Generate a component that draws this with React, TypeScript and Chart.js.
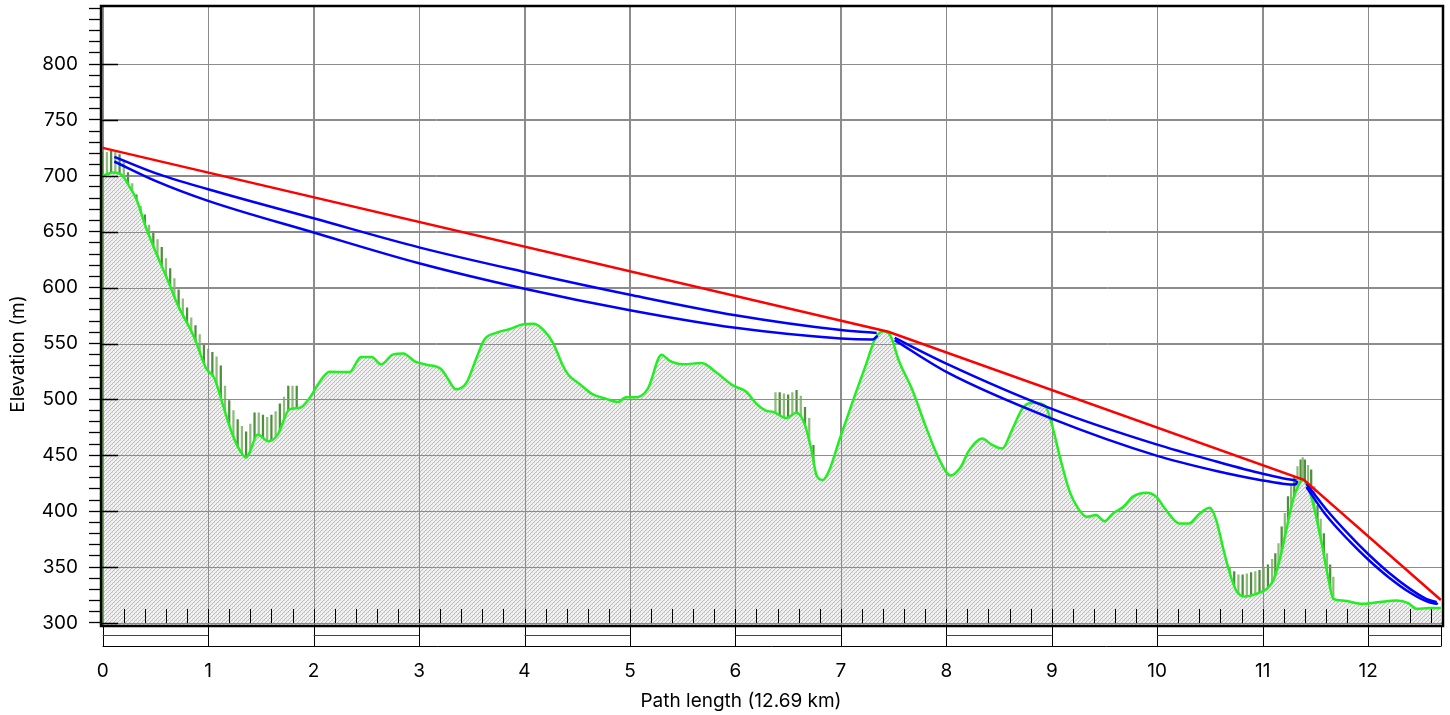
import React, { useEffect, useRef } from 'react';
import { Chart, registerables } from 'chart.js';
Chart.register(...registerables);

// ---------- data ----------
const PATH_KM = 12.69;

const terrainKm = [
  0.0, 0.1, 0.19, 0.24, 0.32, 0.41, 0.52, 0.62, 0.71, 0.87, 0.98, 1.06, 1.14, 1.22, 1.28, 1.36, 1.39, 1.47, 1.57, 1.66,
  1.77, 1.87, 1.96, 2.06, 2.15, 2.34, 2.45, 2.55, 2.64, 2.75, 2.85, 2.96, 3.07, 3.21, 3.27, 3.35, 3.45, 3.54, 3.62, 3.73,
  3.86, 3.98, 4.09, 4.19, 4.27, 4.36, 4.42, 4.52, 4.64, 4.77, 4.89, 4.96, 5.06, 5.17, 5.3, 5.37, 5.5, 5.68, 5.82, 5.98,
  6.1, 6.2, 6.29, 6.36, 6.48, 6.58, 6.66, 6.72, 6.77, 6.83, 6.89, 6.99, 7.11, 7.24, 7.33, 7.41, 7.47, 7.55, 7.68, 7.8,
  7.93, 8.04, 8.14, 8.21, 8.34, 8.43, 8.53, 8.62, 8.73, 8.84, 8.94, 9.0, 9.08, 9.17, 9.25, 9.33, 9.42, 9.5, 9.58, 9.68,
  9.77, 9.9, 9.99, 10.08, 10.21, 10.3, 10.4, 10.5, 10.56, 10.63, 10.69, 10.75, 10.83, 10.94, 11.04, 11.1, 11.16, 11.23, 11.29, 11.34,
  11.38, 11.43, 11.49, 11.56, 11.62, 11.67, 11.76, 11.95, 12.11, 12.27, 12.38, 12.46, 12.58, 12.69,
];
const terrainElev = [
  700, 703, 700, 692.5, 679, 654, 628, 606, 585, 555, 528, 519, 495, 471.5, 458, 448, 452, 468.5, 462.5, 468.5,
  491, 492.5, 501, 516, 524.7, 524.4, 538, 538, 531.3, 540, 541, 534, 531, 527, 519, 509, 515, 536, 553.6, 559.5,
  563, 567, 567.6, 561, 550.6, 531, 521.6, 514, 505, 500.7, 497.8, 502, 502, 509.7, 540, 535, 531.5, 532.5, 524, 512.3,
  507, 496, 490, 488.8, 483.3, 488, 477, 455, 432, 428, 436.6, 464.8, 497.5, 531.6, 555.3, 561, 557, 534.6, 508, 477,
  447, 432, 440, 453.5, 465, 459.5, 456, 472, 493, 497, 494, 478, 447.5, 417.5, 402.5, 395, 396.5, 391, 398, 404,
  413, 416.5, 413, 401.5, 389, 389, 397.8, 403, 391.8, 365, 344, 329, 323.7, 326, 330.6, 338, 356, 385.8, 411, 423,
  428.2, 421.6, 402.2, 371, 341, 321.6, 320, 317.2, 318.7, 320, 317.8, 312.7, 313.3, 313.3,
];

// clutter (vegetation / buildings) tops above the terrain
const clutterKm = [
  0.0, 0.04, 0.08, 0.12, 0.16, 0.2, 0.24, 0.28, 0.32, 0.36, 0.4, 0.44, 0.48, 0.52, 0.56, 0.6, 0.64, 0.68, 0.72, 0.76,
  0.8, 0.84, 0.88, 0.92, 0.96, 1.0, 1.04, 1.08, 1.12, 1.16, 1.2, 1.24, 1.28, 1.32, 1.36, 1.4, 1.44, 1.48, 1.52, 1.56,
  1.6, 1.64, 1.68, 1.72, 1.76, 1.8, 1.84,
  6.38, 6.42, 6.46, 6.5, 6.54, 6.58, 6.62, 6.66, 6.7, 6.74,
  10.69, 10.73, 10.77, 10.81, 10.85, 10.89, 10.93, 10.97, 11.01, 11.05, 11.09, 11.12, 11.15, 11.18, 11.21, 11.24, 11.27, 11.3,
  11.33, 11.36, 11.38, 11.4, 11.43, 11.46, 11.49, 11.52, 11.55, 11.58, 11.61, 11.64, 11.67,
];
const clutterTop = [
  721, 721, 722, 721, 719, 714, 703, 693, 683, 673, 665, 656, 650, 643, 636, 626, 617, 608, 598, 590,
  582, 573, 566, 558, 549, 545, 542, 538, 530, 512, 499, 490, 482, 476, 471, 478, 488, 488, 486, 484,
  486, 489, 496, 502, 512, 512, 512,
  506, 506, 505, 504, 506, 508, 503, 493, 483, 459,
  350, 346, 343, 343, 344, 345, 346, 347, 350, 352, 357, 362, 371, 386, 398, 413, 423, 431,
  440, 446, 448, 446, 441, 437, 422, 405, 393, 380, 362, 352, 341,
];

// line of sight (red)
const losKm = [0, 7.45, 11.39, 12.69];
const losElev = [725, 560.5, 428, 320.5];

// hop clearance curves (blue)
const hop1UpperKm = [0.11, 0.5, 1, 2, 3, 4, 5, 6, 7, 7.34];
const hop1UpperElev = [717, 702.4, 688, 662, 636, 614, 593.6, 575.2, 562, 559.5];
const hop1LowerKm = [0.11, 0.5, 1, 2, 3, 4, 5, 6, 7, 7.3, 7.35];
const hop1LowerElev = [712.8, 695.5, 677.6, 649.3, 621.8, 599, 579.7, 564, 554.5, 553.6, 557];

const hop2UpperKm = [7.51, 8, 9, 10, 10.56, 11, 11.19, 11.32];
const hop2UpperElev = [555, 532, 491.5, 459.5, 444.5, 433.5, 429.5, 427.5];
const hop2LowerKm = [7.51, 8, 9, 10, 10.56, 11, 11.19, 11.31, 11.33];
const hop2LowerElev = [553, 524.6, 482.8, 449.5, 436, 427.5, 424.6, 423.8, 427];

const hop3UpperKm = [11.415, 11.6, 11.83, 12, 12.2, 12.4, 12.55, 12.65];
const hop3UpperElev = [424.6, 402, 377.9, 361.7, 344.7, 330.3, 321.6, 318.6];
const hop3LowerKm = [11.415, 11.6, 11.83, 12, 12.2, 12.4, 12.55, 12.65, 12.66];
const hop3LowerElev = [421.6, 396.5, 372.5, 356.8, 340.5, 327, 319.5, 317.2, 318];

// axes
const xTickValues = [0, 1, 2, 3, 4, 5, 6, 7, 8, 9, 10, 11, 12];
const yLabelValues = [300, 350, 400, 450, 500, 550, 600, 650, 700, 750, 800];
const Y_MINOR_FROM = 300;
const Y_MINOR_TO = 850;
const Y_MINOR_STEP = 10;
const X_INNER_STEP = 0.2;
const X_TITLE = 'Path length (12.69 km)';
const Y_TITLE = 'Elevation (m)';

const X_MIN = -0.016;
const X_MAX = 12.71;
const Y_MIN = 297.3;
const Y_MAX = 851.9;

const FONT = "Inter, 'Liberation Sans', Arial, sans-serif";
const FONT_SIZE = 19;
const GRID = '#8c8c8c';

function pts(xs: number[], ys: number[]) {
  return xs.map((x, i) => ({ x, y: ys[i] }));
}

const noPad = (s: any) => {
  s.paddingTop = 0;
  s.paddingBottom = 0;
  s.paddingLeft = 0;
  s.paddingRight = 0;
};

const decor = {
  id: 'decor',
  afterDatasetDraw(chart: any, args: any) {
    const ds = chart.data.datasets[args.index];
    if (ds.label !== 'terrainFill') return;
    const { ctx, chartArea: a, scales } = chart;
    const x = scales.x;
    const y = scales.y;
    ctx.save();
    ctx.beginPath();
    ctx.rect(a.left, a.top, a.right - a.left, a.bottom - a.top);
    ctx.clip();
    ctx.strokeStyle = GRID;
    ctx.lineWidth = 1;
    ctx.beginPath();
    for (const v of yLabelValues) {
      const py = Math.round(y.getPixelForValue(v)) + 0.5;
      ctx.moveTo(a.left, py);
      ctx.lineTo(a.right, py);
    }
    for (const v of xTickValues) {
      const px = Math.round(x.getPixelForValue(v)) + 0.5;
      ctx.moveTo(px, a.top);
      ctx.lineTo(px, a.bottom);
    }
    ctx.stroke();
    ctx.restore();
  },
  afterDraw(chart: any) {
    const { ctx, chartArea: a, scales } = chart;
    const x = scales.x;
    const y = scales.y;
    ctx.save();
    // inner bottom ticks
    ctx.strokeStyle = '#000';
    ctx.lineWidth = 1;
    ctx.beginPath();
    const n = Math.round(12.6 / X_INNER_STEP);
    for (let k = 1; k <= n; k++) {
      const px = Math.round(x.getPixelForValue(k * X_INNER_STEP)) + 0.5;
      ctx.moveTo(px, a.bottom - 17);
      ctx.lineTo(px, a.bottom - 3);
    }
    ctx.stroke();
    // inner major y ticks
    ctx.lineWidth = 1.3;
    ctx.beginPath();
    for (const v of yLabelValues) {
      const py = Math.round(y.getPixelForValue(v)) + 0.5;
      ctx.moveTo(a.left, py);
      ctx.lineTo(a.left + 17, py);
    }
    ctx.stroke();
    // scale bar under the axis
    const bounds = [...xTickValues, PATH_KM];
    const yTop = a.bottom;
    const yMid = a.bottom + 9.5;
    const yBot = a.bottom + 20.5;
    ctx.lineWidth = 1;
    ctx.strokeStyle = '#000';
    ctx.beginPath();
    for (const b of bounds) {
      const px = Math.round(x.getPixelForValue(b)) + 0.5;
      ctx.moveTo(px, yTop);
      ctx.lineTo(px, yBot);
    }
    ctx.moveTo(x.getPixelForValue(0), yBot);
    ctx.lineTo(x.getPixelForValue(PATH_KM), yBot);
    ctx.stroke();
    ctx.strokeStyle = '#444';
    ctx.beginPath();
    for (let i = 0; i < bounds.length - 1; i += 2) {
      ctx.moveTo(x.getPixelForValue(bounds[i]), yMid);
      ctx.lineTo(x.getPixelForValue(bounds[i + 1]), yMid);
    }
    ctx.stroke();
    // frame
    ctx.strokeStyle = '#000';
    ctx.lineWidth = 2.5;
    ctx.strokeRect(a.left, a.top, a.right - a.left, a.bottom - a.top);
    // axis titles
    ctx.fillStyle = '#000';
    ctx.font = `${FONT_SIZE}px ${FONT}`;
    ctx.textAlign = 'center';
    ctx.textBaseline = 'middle';
    ctx.fillText(X_TITLE, 741, 701);
    ctx.translate(18, 354);
    ctx.rotate(-Math.PI / 2);
    ctx.fillText(Y_TITLE, 0, 0);
    ctx.restore();
  },
};

export default function App() {
  const ref = useRef<HTMLCanvasElement>(null);
  useEffect(() => {
    document.body.style.margin = '0';
    const canvas = ref.current!;
    const tile = document.createElement('canvas');
    tile.width = 4;
    tile.height = 4;
    const tctx = tile.getContext('2d')!;
    tctx.fillStyle = '#f2f2f2';
    tctx.fillRect(0, 0, 4, 4);
    tctx.fillStyle = '#bdbdbd';
    for (let i = 0; i < 4; i++) tctx.fillRect(i, 3 - i, 1, 1);
    tctx.fillStyle = '#d8d8d8';
    tctx.fillRect(0, 0, 1, 1);
    tctx.fillRect(2, 2, 1, 1);
    const pattern = canvas.getContext('2d')!.createPattern(tile, 'repeat');

    const lineDs = (label: string, xs: number[], ys: number[], color: string, order: number, smooth: boolean) => ({
      label,
      data: pts(xs, ys),
      borderColor: color,
      borderWidth: 2.5,
      pointRadius: 0,
      fill: false,
      order,
      tension: 0,
      cubicInterpolationMode: smooth ? 'monotone' : 'default',
    });

    const chart = new Chart(canvas, {
      type: 'line',
      data: {
        datasets: [
          lineDs('los', losKm, losElev, '#ff0000', 0, false),
          lineDs('h1u', hop1UpperKm, hop1UpperElev, '#0000ff', 1, true),
          lineDs('h1l', hop1LowerKm, hop1LowerElev, '#0000ff', 1, true),
          lineDs('h2u', hop2UpperKm, hop2UpperElev, '#0000ff', 1, true),
          lineDs('h2l', hop2LowerKm, hop2LowerElev, '#0000ff', 1, true),
          lineDs('h3u', hop3UpperKm, hop3UpperElev, '#0000ff', 1, true),
          lineDs('h3l', hop3LowerKm, hop3LowerElev, '#0000ff', 1, true),
          lineDs('terrainLine', terrainKm, terrainElev, '#22ee22', 2, true),
          {
            label: 'terrainFill',
            data: pts(terrainKm, terrainElev),
            borderWidth: 0,
            borderColor: 'rgba(0,0,0,0)',
            backgroundColor: pattern as any,
            fill: 'start',
            pointRadius: 0,
            order: 3,
            cubicInterpolationMode: 'monotone',
          },
          {
            type: 'bar',
            label: 'clutter',
            data: pts(clutterKm, clutterTop),
            backgroundColor: (c: any) => (c.dataIndex % 2 ? '#8fbb7e' : '#4f8e3a'),
            barThickness: 1.6,
            order: 4,
          } as any,
        ],
      },
      options: {
        responsive: false,
        animation: false,
        devicePixelRatio: 1,
        events: [],
        layout: { padding: { top: 6, right: 7, left: 0, bottom: 0 } },
        plugins: { legend: { display: false }, tooltip: { enabled: false } },
        scales: {
          x: {
            type: 'linear',
            offset: false,
            min: X_MIN,
            max: X_MAX,
            afterBuildTicks: (s: any) => {
              s.ticks = xTickValues.map((v) => ({ value: v }));
            },
            afterFit: (s: any) => {
              s.height = 89;
              noPad(s);
            },
            grid: { color: GRID, drawTicks: false, offset: false },
            border: { display: false },
            ticks: {
              autoSkip: false,
              maxRotation: 0,
              padding: 34,
              color: '#000',
              font: { family: FONT, size: FONT_SIZE },
              callback: (v: any) => String(v),
            },
            title: { display: false },
          },
          y: {
            type: 'linear',
            min: Y_MIN,
            max: Y_MAX,
            afterBuildTicks: (s: any) => {
              const t: any[] = [];
              for (let v = Y_MINOR_FROM; v <= Y_MINOR_TO; v += Y_MINOR_STEP) t.push({ value: v });
              s.ticks = t;
            },
            afterFit: (s: any) => {
              s.width = 101;
              noPad(s);
            },
            grid: {
              color: (c: any) => (c.tick && yLabelValues.includes(c.tick.value) ? GRID : 'rgba(0,0,0,0)'),
              tickColor: '#000',
              tickLength: 12,
              tickWidth: 1.3,
            },
            border: { display: false },
            ticks: {
              autoSkip: false,
              padding: 11,
              color: '#000',
              font: { family: FONT, size: FONT_SIZE },
              callback: (v: any) => (yLabelValues.includes(v) ? String(v) : ''),
            },
            title: { display: false },
          },
        },
      } as any,
      plugins: [decor],
    });
    return () => chart.destroy();
  }, []);
  return <canvas ref={ref} width={1450} height={715} style={{ display: 'block' }} />;
}
